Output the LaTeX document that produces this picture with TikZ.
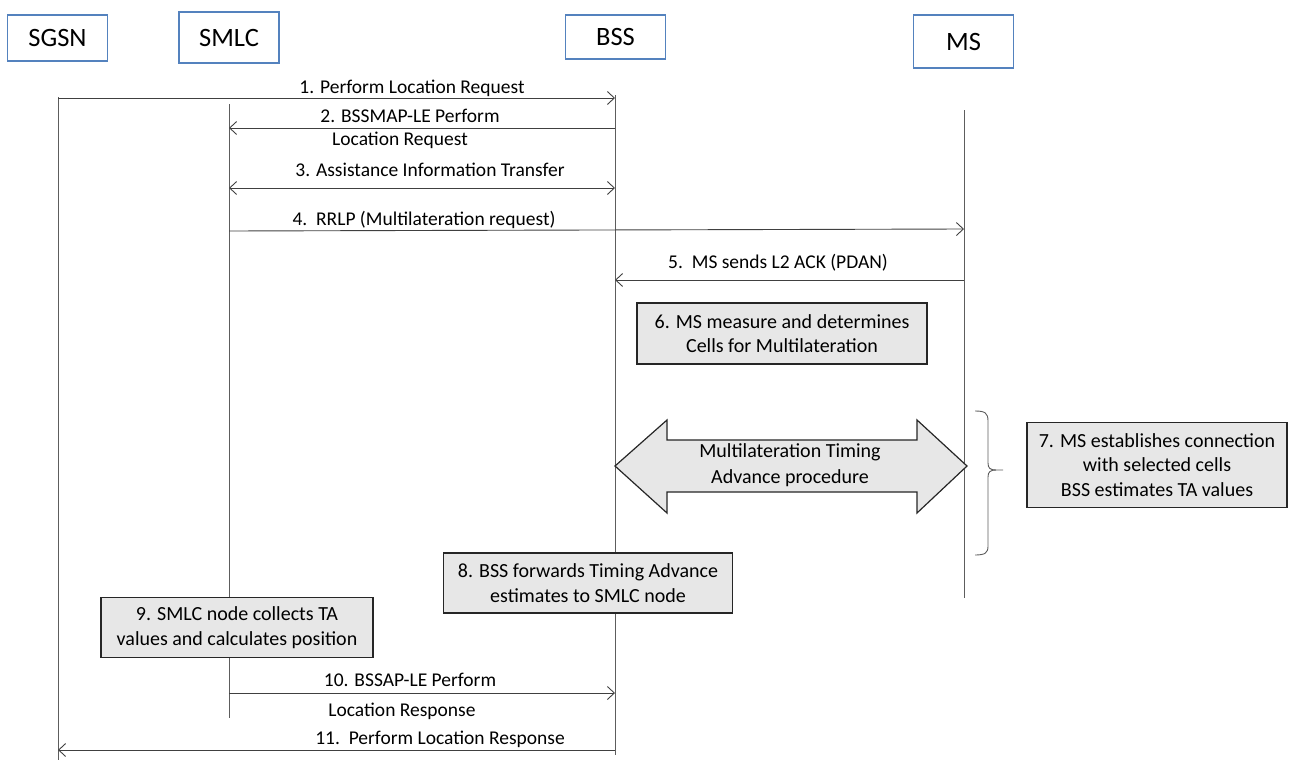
\documentclass[tikz,border=0pt]{standalone}
\usepackage{fontspec}
\setmainfont{Carlito}
\usetikzlibrary{arrows.meta}
\definecolor{hdrblue}{RGB}{84,130,190}
\definecolor{lnc}{RGB}{64,64,64}
\definecolor{boxfill}{RGB}{231,231,231}
\begin{document}
\begin{tikzpicture}[x=1pt,y=-1pt,
  hdr/.style={draw=hdrblue,line width=1.2pt,minimum width=100pt,font=\fontsize{26.5}{30}\selectfont,inner sep=0pt},
  life/.style={draw=lnc!85,line width=0.9pt},
  msg/.style={draw=lnc,line width=0.9pt,-{Straight Barb[length=7pt,width=13pt]}},
  dmsg/.style={draw=lnc,line width=0.9pt,{Straight Barb[length=7pt,width=13pt]}-{Straight Barb[length=7pt,width=13pt]}},
  lbl/.style={font=\fontsize{19.5}{22}\selectfont,inner sep=0pt},
  gbox/.style={draw=black!85,fill=boxfill,line width=1.4pt,font=\fontsize{20}{24.5}\selectfont,align=center,inner sep=0pt}
]
\useasboundingbox (0,0) rectangle (1289,760);
% headers
\node[hdr,minimum height=46pt] (SGSN) at (57.5,38) {SGSN};
\node[hdr,minimum height=51pt] (SMLC) at (229,37.5) {SMLC};
\node[hdr,minimum height=44pt] (BSS) at (615.5,37) {BSS};
\node[hdr,minimum height=53pt] (MS) at (963.5,41.5) {MS};
% lifeline ends
\coordinate (sgT) at (58,97);  \coordinate (sgB) at (58,760);
\coordinate (smT) at (229,104); \coordinate (smB) at (229,718);
\coordinate (bsT) at (615,95);  \coordinate (bsB) at (615,755);
\coordinate (msT) at (964,110); \coordinate (msB) at (964,598);
\draw[life] (sgT) -- (sgB);
\draw[life] (smT) -- (smB);
\draw[life] (bsT) -- (bsB);
\draw[life] (msT) -- (msB);
% message points
\coordinate (m1a) at (58,98);   \coordinate (m1b) at (615,98);
\coordinate (m2a) at (615,128); \coordinate (m2b) at (229,128);
\coordinate (m3a) at (229,188); \coordinate (m3b) at (615,188);
\coordinate (m4a) at (229,231); \coordinate (m4b) at (964,229);
\coordinate (m5a) at (964,280); \coordinate (m5b) at (615,280);
\coordinate (m10a) at (229,693); \coordinate (m10b) at (615,693);
\coordinate (m11a) at (615,750); \coordinate (m11b) at (58,750);
\draw[msg] (m1a) -- (m1b);
\draw[msg] (m2a) -- (m2b);
\draw[dmsg] (m3a) -- (m3b);
\draw[msg] (m4a) -- (m4b);
\draw[msg] (m5a) -- (m5b);
\draw[msg] (m10a) -- (m10b);
\draw[msg] (m11a) -- (m11b);
% labels
\node[lbl] (l1) at (412,88) {1. Perform Location Request};
\node[lbl] (l2a) at (410,116) {2. BSSMAP-LE Perform};
\node[lbl] (l2b) at (400,140) {Location Request};
\node[lbl] (l3) at (430,170) {3. Assistance Information Transfer};
\node[lbl] (l4) at (424,220) {4.\ \ RRLP (Multilateration request)};
\node[lbl] (l5) at (778,263) {5.\ \ MS sends L2 ACK (PDAN)};
\node[lbl] (l10a) at (410,680) {10. BSSAP-LE Perform};
\node[lbl] (l10b) at (402,711) {Location Response};
\node[lbl] (l11) at (440,739) {11.\ \ Perform Location Response};
% boxes
\node[gbox,minimum width=290pt,minimum height=61pt] (b6) at (782,333.5) {6. MS measure and determines\\Cells for Multilateration};
\node[gbox,minimum width=260pt,minimum height=85pt] (b7) at (1157,465) {7. MS establishes connection\\with selected cells\\BSS estimates TA values};
\node[gbox,minimum width=289pt,minimum height=60pt] (b8) at (588,583) {8. BSS forwards Timing Advance\\estimates to SMLC node};
\node[gbox,minimum width=272pt,minimum height=60pt] (b9) at (237,627.5) {9. SMLC node collects TA\\values and calculates position};
% double arrow
\draw[draw=black!85,fill=boxfill,line width=1.2pt]
  (615,466) -- (667,420) -- (667,440) -- (917,440) -- (917,420) -- (967,466)
  -- (917,513) -- (917,492) -- (667,492) -- (667,513) -- cycle;
\node[font=\fontsize{20}{26}\selectfont,align=center,inner sep=0pt] (da) at (790,465) {Multilateration Timing\\Advance procedure};
% brace
\draw[draw=lnc!85,line width=0.9pt]
  (975,411) .. controls (985,411) and (988,413) .. (988,421) -- (988,463)
  .. controls (988,468) and (990,470) .. (996,470) -- (1003,470);
\draw[draw=lnc!85,line width=0.9pt]
  (996,470) .. controls (990,470) and (988,472) .. (988,477) -- (988,546)
  .. controls (988,553) and (985,555) .. (975,555);
\end{tikzpicture}
\end{document}
